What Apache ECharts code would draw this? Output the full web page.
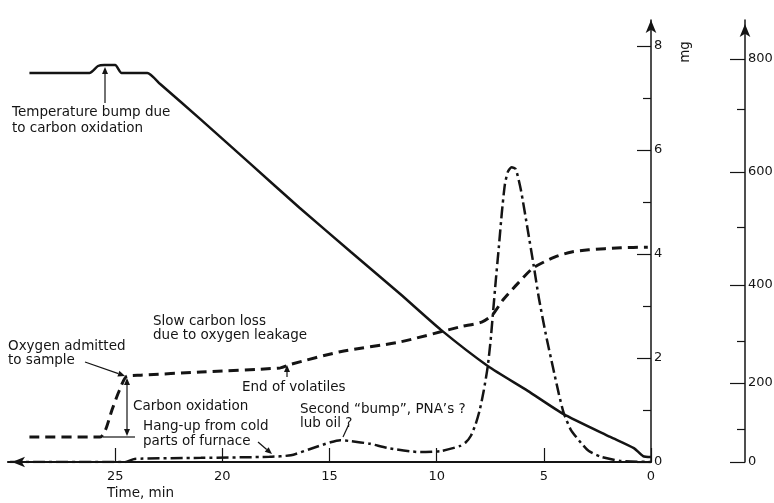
<!DOCTYPE html>
<html>
<head>
<meta charset="utf-8">
<script src="https://cdn.jsdelivr.net/npm/echarts@6/dist/echarts.min.js"></script>
<style>
	html, body { margin: 0; padding: 0; background: #fff; }
	#chart { width: 774px; height: 503px; }
</style>
</head>
<body>
<div id="chart"></div>
<script>
// time axis runs from 30 min down to 0
const timeTicks = [25, 20, 15, 10, 5, 0];
const massTicks = [0, 2, 4, 6, 8];
const massMinorTicks = [1, 3, 5, 7];
const tempTicks = [0, 200, 400, 600, 800];
const tempMinorTicks = [100, 300, 500, 700];

// the printed temperature scale is not linear:
// where each 100 deg mark sits, as a fraction of the 0-800 span
const tempScaleDeg = [0, 100, 200, 300, 400, 500, 600, 700, 800];
const tempScaleFrac = [0, 0.082, 0.196, 0.300, 0.439, 0.583, 0.720, 0.876, 1];

// sample weight, mg (dashed)
const weightTime = [29.0, 25.7, 25.45, 25.15, 24.8, 24.45, 23.8, 21.0, 17.3, 16.8, 14.5, 11.7, 8.9, 7.9, 7.4, 6.9, 6.2, 5.5, 4.5, 3.7, 2.9, 1.4, 0.15];
const weightMg = [0.48, 0.48, 0.62, 1.0, 1.38, 1.65, 1.67, 1.73, 1.81, 1.88, 2.12, 2.31, 2.6, 2.69, 2.83, 3.12, 3.44, 3.73, 3.94, 4.04, 4.08, 4.12, 4.13];

// temperature, deg (solid)
const tempTime = [29.0, 26.2, 25.8, 25.5, 25.0, 24.7, 23.5, 22.9, 21.0, 18.7, 16.4, 14.0, 11.7, 9.8, 7.6, 5.75, 4.1, 1.9, 0.8, 0.37, 0];
const tempDeg = [772, 772, 786, 788, 788, 772, 772, 750, 683, 613, 535, 457, 384, 320, 240, 183, 133, 76, 42, 18, 15];

// evolved gas signal (dash-dot), read on the mg scale
const gasTime = [29.9, 24.5, 24.1, 21.0, 17.8, 16.8, 15.9, 14.95, 14.5, 14.0, 13.1, 12.3, 10.75, 9.8, 8.9, 8.64, 8.41, 8.18, 7.99, 7.8, 7.62, 7.48, 7.38, 7.24, 7.1, 6.96, 6.82, 6.68, 6.5, 6.31, 6.07, 5.75, 5.47, 5.23, 4.91, 4.58, 4.3, 4.07, 3.74, 3.27, 2.9, 2.34, 1.4, 0];
const gasSignal = [0, 0, 0.06, 0.08, 0.1, 0.13, 0.25, 0.38, 0.42, 0.4, 0.35, 0.27, 0.19, 0.21, 0.31, 0.38, 0.5, 0.73, 1.0, 1.38, 1.83, 2.35, 2.83, 3.5, 4.13, 4.79, 5.33, 5.58, 5.67, 5.63, 5.23, 4.46, 3.77, 3.15, 2.46, 1.83, 1.31, 0.94, 0.62, 0.37, 0.21, 0.1, 0.02, 0];

const massTop = 8.5;
// the 800 deg mark lines up with 7.75 on the mg scale
const tempTop = massTop / 7.75;

function tempToScale(d) {
	for (let i = 1; i < tempScaleDeg.length; i++) {
		if (d <= tempScaleDeg[i]) {
			let f = (d - tempScaleDeg[i - 1]) / (tempScaleDeg[i] - tempScaleDeg[i - 1]);
			return tempScaleFrac[i - 1] + f * (tempScaleFrac[i] - tempScaleFrac[i - 1]);
		}
	}
	return 1;
}

function scaleToTempLabel(v) {
	let best = 0;
	tempTicks.forEach(function(t, i) {
		if (Math.abs(tempToScale(t) - v) < Math.abs(tempToScale(tempTicks[best]) - v)) best = i;
	});
	return String(tempTicks[best]);
}

function pairs(xs, ys) {
	return xs.map(function(x, i) { return [x, ys[i]]; });
}

const ink = "#141414";
const font = '13.5px "DejaVu Sans"';

function arrow(x1, y1, x2, y2) {
	let a = Math.atan2(y2 - y1, x2 - x1);
	let len = 7, w = 3;
	let bx = x2 - len * Math.cos(a), by = y2 - len * Math.sin(a);
	return [
		{ type: "line", shape: { x1: x1, y1: y1, x2: bx, y2: by }, style: { stroke: ink, lineWidth: 1.2 } },
		{
			type: "polygon",
			shape: { points: [[x2, y2], [bx - w * Math.sin(a), by + w * Math.cos(a)], [bx + w * Math.sin(a), by - w * Math.cos(a)]] },
			style: { fill: ink }
		}
	];
}

function label(x, y, text, lh) {
	return {
		type: "text", x: x, y: y,
		style: { text: text, font: font, fill: ink, lineHeight: lh || 15, verticalAlign: "top" }
	};
}

let graphics = [
	label(12, 104, "Temperature bump due\nto carbon oxidation", 16),
	label(8, 339, "Oxygen admitted\nto sample", 14),
	label(153, 314, "Slow carbon loss\ndue to oxygen leakage", 14),
	label(242, 380, "End of volatiles"),
	label(133, 399, "Carbon oxidation"),
	label(143, 419, "Hang-up from cold\nparts of furnace"),
	label(300, 402, "Second \u201cbump\u201d, PNA\u2019s ?\nlub oil ?", 14),
	label(107, 486, "Time, min"),
	{ type: "text", x: 685, y: 52, rotation: Math.PI / 2, style: { text: "mg", font: font, fill: ink, align: "center", verticalAlign: "middle" } },
	{ type: "line", shape: { x1: 103, y1: 437, x2: 135, y2: 437 }, style: { stroke: ink, lineWidth: 1.2 } },
	{ type: "line", shape: { x1: 349, y1: 424, x2: 343, y2: 437 }, style: { stroke: ink, lineWidth: 1.2 } }
]
	.concat(arrow(105, 103, 105, 67))
	.concat(arrow(85, 362, 125, 376))
	.concat(arrow(127, 405, 127, 378))
	.concat(arrow(127, 405, 127, 436))
	.concat(arrow(258, 442, 272, 454))
	.concat(arrow(287, 377, 287, 365));

let axisText = { color: ink, fontSize: 13, fontFamily: "DejaVu Sans" };

let chart = echarts.init(document.getElementById("chart"));
chart.setOption({
	animation: false,
	backgroundColor: "#fff",
	grid: { left: 8, right: 123, top: 20, bottom: 41, containLabel: false, outerBoundsMode: "none" },
	xAxis: {
		type: "value",
		inverse: true,
		min: 0,
		max: 30,
		axisLine: {
			show: true,
			symbol: ["arrow", "none"],
			symbolSize: [8, 13],
			symbolOffset: [4, 0],
			lineStyle: { color: ink, width: 2.2 }
		},
		axisTick: { show: true, inside: true, length: 14, customValues: timeTicks, lineStyle: { color: ink, width: 1.2 } },
		axisLabel: Object.assign({ customValues: timeTicks, margin: 8 }, axisText),
		splitLine: { show: false }
	},
	yAxis: [
		{
			type: "value", position: "right", min: 0, max: massTop,
			axisLine: { show: true, symbol: ["none", "arrow"], symbolSize: [8, 13], lineStyle: { color: ink, width: 1.5 } },
			axisTick: { show: true, inside: true, length: 14, customValues: massTicks, lineStyle: { color: ink, width: 1.2 } },
			axisLabel: Object.assign({ customValues: massTicks, margin: 3 }, axisText),
			splitLine: { show: false }
		},
		{
			type: "value", position: "right", min: 0, max: massTop,
			axisLine: { show: false },
			axisTick: { show: true, inside: true, length: 8, customValues: massMinorTicks, lineStyle: { color: ink, width: 1.2 } },
			axisLabel: { show: false },
			splitLine: { show: false }
		},
		{
			type: "value", position: "right", offset: 94, min: 0, max: tempTop,
			axisLine: { show: true, symbol: ["none", "arrow"], symbolSize: [8, 13], symbolOffset: [0, -4], lineStyle: { color: ink, width: 1.5 } },
			axisTick: { show: true, inside: true, length: 15, customValues: tempTicks.map(tempToScale), lineStyle: { color: ink, width: 1.2 } },
			axisLabel: Object.assign({ customValues: tempTicks.map(tempToScale), margin: 3, formatter: scaleToTempLabel }, axisText),
			splitLine: { show: false }
		},
		{
			type: "value", position: "right", offset: 94, min: 0, max: tempTop,
			axisLine: { show: false },
			axisTick: { show: true, inside: true, length: 8, customValues: tempMinorTicks.map(tempToScale), lineStyle: { color: ink, width: 1.2 } },
			axisLabel: { show: false },
			splitLine: { show: false }
		}
	],
	series: [
		{
			name: "Temperature",
			type: "line",
			yAxisIndex: 2,
			data: tempTime.map(function(t, i) { return [t, tempToScale(tempDeg[i])]; }),
			showSymbol: false,
			smooth: 0.2,
			lineStyle: { color: ink, width: 2.5 }
		},
		{
			name: "Weight",
			type: "line",
			yAxisIndex: 0,
			data: pairs(weightTime, weightMg),
			showSymbol: false,
			smooth: 0.25,
			lineStyle: { color: ink, width: 3, type: [10, 6] }
		},
		{
			name: "Gas",
			type: "line",
			yAxisIndex: 0,
			data: pairs(gasTime, gasSignal),
			showSymbol: false,
			smooth: 0.2,
			lineStyle: { color: ink, width: 2.5, type: [12, 4, 3, 4] }
		}
	],
	graphic: graphics
});
</script>
</body>
</html>
